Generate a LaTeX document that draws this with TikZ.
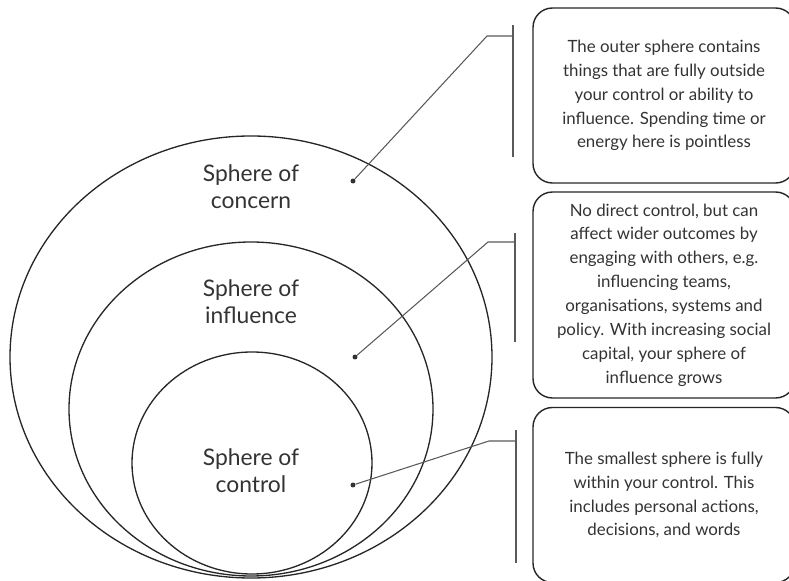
\documentclass[tikz,border=0pt]{standalone}
\usepackage{fontspec}
\setmainfont{Lato}
\begin{document}
\begin{tikzpicture}[x=0.02cm,y=-0.02cm,
  sphere/.style={draw=black!85,line width=0.75pt},
  lbl/.style={align=center,text=black!80,font=\fontsize{13}{15.3}\selectfont},
  note/.style={draw=black!85,line width=0.8pt,rounded corners=11pt,align=center,
    text=black!80,font=\fontsize{9.6}{13.6}\selectfont,inner sep=0pt,minimum width=5.24cm},
  brace/.style={draw=black!65,line width=0.6pt},
  dot/.style={fill=black!80,circle,inner sep=1pt}]
\useasboundingbox (0,0) rectangle (789,581);
% spheres
\draw[sphere] (251,357) ellipse [x radius=241, y radius=221];
\draw[sphere] (251,409) ellipse [x radius=182, y radius=167];
\draw[sphere] (252,463) ellipse [x radius=120, y radius=111];
\node[lbl] (concern) at (251,187) {Sphere of\\concern};
\node[lbl] (influence) at (251,302) {Sphere of\\influence};
\node[lbl] (control) at (251,471) {Sphere of\\control};
% notes
\node[note,minimum height=3.5cm] (n1) at (664,95.5) {The outer sphere contains\\things that are fully outside\\your control or ability to\\influence. Spending time or\\energy here is pointless};
\node[note,minimum height=4.12cm] (n2) at (664,295) {No direct control, but can\\affect wider outcomes by\\engaging with others, e.g.\\influencing teams,\\organisations, systems and\\policy. With increasing social\\capital, your sphere of\\influence grows};
\node[note,minimum height=3.5cm] (n3) at (664,495) {The smallest sphere is fully\\within your control. This\\includes personal actions,\\decisions, and words};
% leaders
\node[dot] (d1) at (353,181) {};
\node[dot] (d2) at (355,357) {};
\node[dot] (d3) at (353,485) {};
\coordinate (k1) at (487,36);
\coordinate (k2) at (488,242);
\coordinate (k3) at (489,441);
\draw[brace] (513,25) -- (513,157);
\draw[brace] (515,233) -- (515,342);
\draw[brace] (516,430) -- (516,563);
\draw[brace] (d1) -- (k1) -- (513,36);
\draw[brace] (d2) -- (k2) -- (515,242);
\draw[brace] (d3) -- (k3) -- (516,441);
\end{tikzpicture}
\end{document}
